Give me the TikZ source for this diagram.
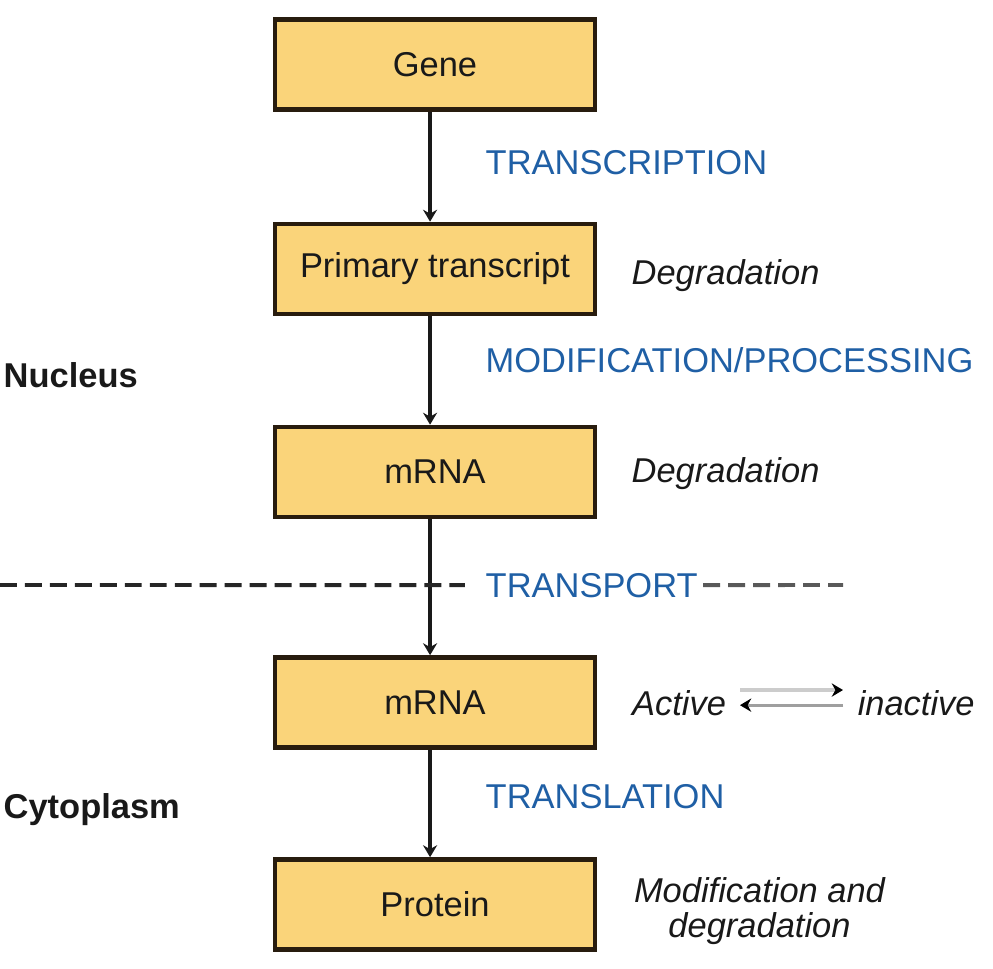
\documentclass[tikz,border=0pt]{standalone}
\usepackage{xcolor}
\usepackage{fontspec}
\setmainfont{Liberation Sans}
\usetikzlibrary{arrows.meta}

\definecolor{boxfill}{RGB}{250,212,122}
\definecolor{boxline}{RGB}{40,28,14}
\definecolor{stepblue}{RGB}{31,95,165}

\begin{document}
\begin{tikzpicture}[x=0.01cm,y=-0.01cm,
    stagebox/.style={draw=boxline, line width=1.3pt, fill=boxfill,
        minimum width=3.2cm, minimum height=0.9cm, inner sep=0pt,
        font=\fontsize{9.8}{11}\selectfont, text=black!90},
    process/.style={anchor=base west, inner sep=0pt, text=stepblue,
        font=\fontsize{9.8}{11}\selectfont},
    fate/.style={anchor=base west, inner sep=0pt, text=black!90,
        font=\fontsize{9.8}{11}\selectfont\itshape},
    region/.style={anchor=base west, inner sep=0pt, text=black!90,
        font=\fontsize{9.8}{11}\selectfont\bfseries},
    flow/.style={line width=1.1pt, black!90,
        -{Stealth[length=3.4pt,width=4pt]}},
    swap/.style={line width=0.9pt, -{Stealth[length=3.2pt,width=3.8pt,black]}}]

    \useasboundingbox (0,0) rectangle (993,969);

    % Stages
    \node[stagebox] (gene) at (435,64.5) {Gene};
    \node[stagebox] (primary) at (435,269) {Primary transcript};
    \node[stagebox] (nucmrna) at (435,472) {mRNA};
    \node[stagebox] (cytmrna) at (435,702.5) {mRNA};
    \node[stagebox] (protein) at (435,904.5) {Protein};

    % Connecting arrows (slightly left of the box centres)
    \draw[flow] ([xshift=-1.4pt]gene.south) -- ([xshift=-1.4pt]primary.north);
    \draw[flow] ([xshift=-1.4pt]primary.south) -- ([xshift=-1.4pt]nucmrna.north);
    \draw[flow] ([xshift=-1.4pt]nucmrna.south) -- ([xshift=-1.4pt]cytmrna.north);
    \draw[flow] ([xshift=-1.4pt]cytmrna.south) -- ([xshift=-1.4pt]protein.north);

    % Processes
    \node[process] (transcription) at (485,174) {TRANSCRIPTION};
    \node[process] (processing) at (485,372) {MODIFICATION/PROCESSING};
    \node[process] (transport) at (485,597) {TRANSPORT};
    \node[process] (translation) at (485,808) {TRANSLATION};

    % Nuclear envelope
    \coordinate (envleft) at (0,585);
    \coordinate (envright) at (843,585);
    \draw[line width=1.1pt, black!85, dash pattern=on 4.8pt off 2.3pt]
        (envleft) -- ([xshift=-5.7pt]transport.west);
    \draw[line width=1.1pt, black!65, dash pattern=on 4.8pt off 2.3pt]
        ([xshift=1.4pt]transport.east) -- (envright);

    % Fates
    \node[fate] (degradeA) at (631,284) {Degradation};
    \node[fate] (degradeB) at (631,482) {Degradation};
    \node[fate, anchor=base east, inner xsep=3.8pt] (active) at (740,715) {Active};
    \node[fate, inner xsep=4pt] (inactive) at (843,715) {inactive};
    \draw[swap, gray!40] ([yshift=7.1pt]active.base east) -- ([yshift=7.1pt]inactive.base west);
    \draw[swap, gray!75] ([yshift=2.8pt]inactive.base west) -- ([yshift=2.8pt]active.base east);
    \node[fate, anchor=north, align=center, font=\fontsize{9.8}{10}\selectfont\itshape]
        (protfate) at (759.5,877) {Modification and\\degradation};

    % Compartments
    \node[region] (nucleus) at (3,387) {Nucleus};
    \node[region] (cytoplasm) at (3,818) {Cytoplasm};
\end{tikzpicture}
\end{document}
